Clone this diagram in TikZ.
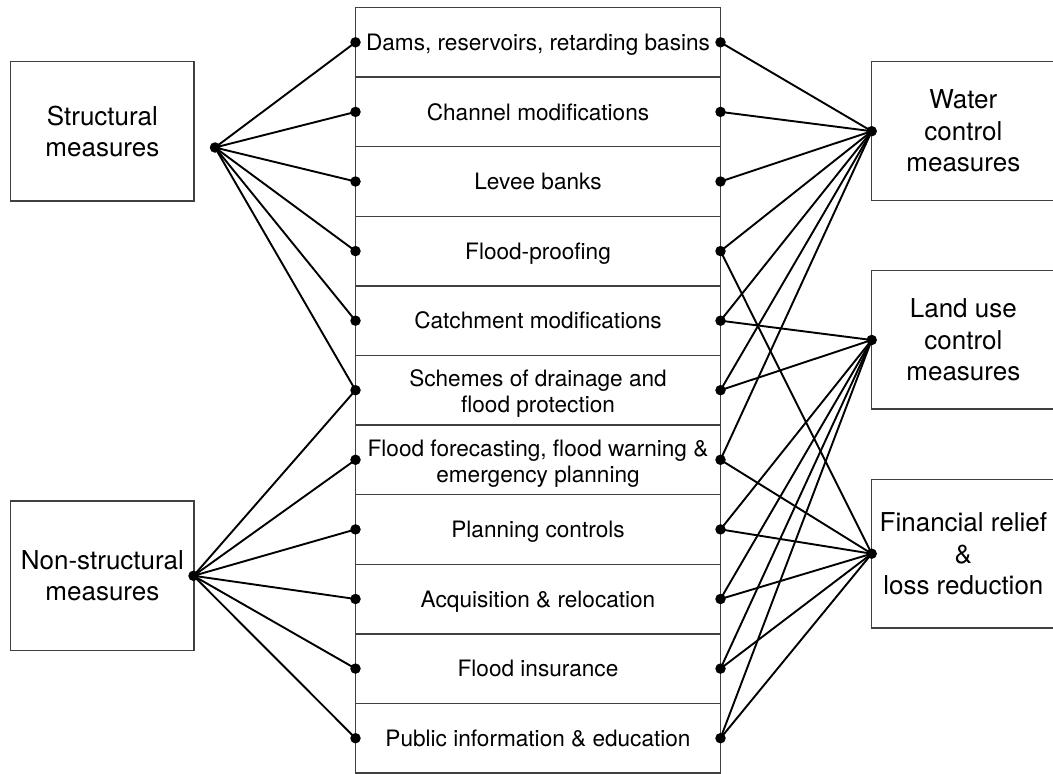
\documentclass[tikz,border=0pt]{standalone}
\usepackage{fontspec}
\setmainfont{TeX Gyre Heros}
\begin{document}
\begin{tikzpicture}[x=1pt,y=-1pt,
  box/.style={draw=black!75, line width=1.4pt, align=center, inner sep=0pt, minimum width=183.3pt, font=\fontsize{26}{31.5}\selectfont},
  cell/.style={draw=black!75, line width=1.4pt, align=center, inner sep=0pt, minimum width=365pt, minimum height=69.6pt, font=\fontsize{22.6}{26}\selectfont},
  one/.style={text height=16.3pt, text depth=0pt},
  two/.style={label={[font=\fontsize{22.6}{26}\selectfont, align=center, yshift=-3.5pt]center:#1}},
  dot/.style={circle, fill=black, inner sep=0pt, minimum size=10.5pt},
  link/.style={line width=1.9pt, black}]
\useasboundingbox (0,0) rectangle (1053,774);
% central column
\node[cell, one] (c1) at (538,42.3) {Dams, reservoirs, retarding basins};
\node[cell, one] (c2) at (538,111.9) {Channel modifications};
\node[cell, one] (c3) at (538,181.5) {Levee banks};
\node[cell, one] (c4) at (538,251.1) {Flood-proofing};
\node[cell, one] (c5) at (538,320.7) {Catchment modifications};
\node[cell, two={Schemes of drainage and\\flood protection}] (c6) at (538,390.2) {};
\node[cell, two={Flood forecasting, flood warning \&\\emergency planning}] (c7) at (538,459.8) {};
\node[cell, one] (c8) at (538,529.4) {Planning controls};
\node[cell, one] (c9) at (538,599.0) {Acquisition \& relocation};
\node[cell, one] (c10) at (538,668.6) {Flood insurance};
\node[cell, one] (c11) at (538,738.2) {Public information \& education};
% side boxes
\node[box, minimum height=139.3pt] (SB) at (102.4,131.4) {Structural\\measures};
\node[box, minimum height=149.5pt] (NB) at (102.4,575.8) {Non-structural\\measures};
\node[box, minimum height=139pt] (WB) at (963.35,131.2) {Water\\control\\measures};
\node[box, minimum height=138.3pt] (UB) at (963.35,339.9) {Land use\\control\\measures};
\node[box, minimum height=148.7pt] (FB) at (963.35,553.7) {Financial relief\\\&\\loss reduction};
% dots
\node[dot] (S) at (215,147.5) {};
\node[dot] (N) at (193.5,575.8) {};
\node[dot] (W) at (871.7,131.2) {};
\node[dot] (U) at (871.7,340) {};
\node[dot] (F) at (871.7,553.7) {};
\foreach \i/\y in {1/42.3,2/111.9,3/181.5,4/251.1,5/320.7,6/390.2,7/459.8,8/529.4,9/599.0,10/668.6,11/738.2}{
  \node[dot] (L\i) at (355.5,\y) {};
  \node[dot] (R\i) at (720.5,\y) {};
}
% connectors
\foreach \i in {1,...,6} \draw[link] (S.center) -- (L\i.center);
\foreach \i in {6,...,11} \draw[link] (N.center) -- (L\i.center);
\foreach \i in {1,...,7} \draw[link] (W.center) -- (R\i.center);
\foreach \i in {5,6,8,9,10,11} \draw[link] (U.center) -- (R\i.center);
\foreach \i in {4,7,8,9,10,11} \draw[link] (F.center) -- (R\i.center);
\end{tikzpicture}
\end{document}
